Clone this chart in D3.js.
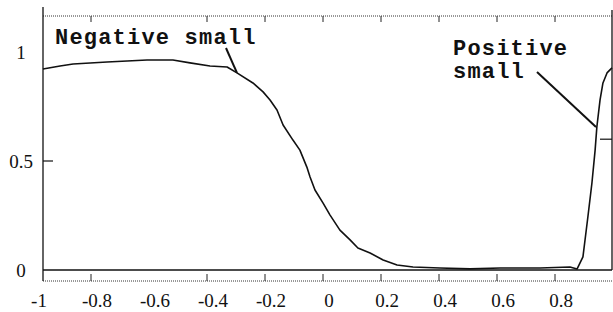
<!DOCTYPE html>
<html>
<head>
<meta charset="utf-8">
<script src="https://cdn.jsdelivr.net/npm/d3@7"></script>
<style>
    body { margin:0; background:#fff; }
    .tickLabel { font-family: "Liberation Serif", "Times New Roman", serif; font-size:19px; fill:#111; }
    .annot { font-family: "Liberation Mono", "Courier New", monospace; font-size:22px; font-weight:bold; letter-spacing:1.2px; fill:#111; }
</style>
</head>
<body>
<div id="chart"></div>
<script>
    /*
    DATA
    */
    const curveX = [-0.976, -0.917, -0.872, -0.755, -0.617, -0.528, -0.469, -0.400, -0.341, -0.307,
        -0.252, -0.217, -0.193, -0.169, -0.148, -0.114, -0.090, -0.066, -0.055, -0.038,
        -0.010, 0.014, 0.048, 0.083, 0.110, 0.152, 0.197, 0.245, 0.300, 0.393,
        0.497, 0.600, 0.738, 0.841, 0.866, 0.886, 0.903, 0.917, 0.928, 0.934,
        0.945, 0.955, 0.969, 0.986];
    const curveY = [0.922, 0.936, 0.945, 0.954, 0.963, 0.963, 0.950, 0.936, 0.931, 0.904,
        0.858, 0.817, 0.780, 0.734, 0.665, 0.596, 0.550, 0.472, 0.427, 0.367,
        0.307, 0.252, 0.183, 0.138, 0.101, 0.078, 0.046, 0.023, 0.014, 0.009,
        0.005, 0.009, 0.009, 0.014, 0.005, 0.060, 0.243, 0.399, 0.550, 0.656,
        0.780, 0.858, 0.904, 0.927];

    const xLabelVals = [-1, -0.8, -0.6, -0.4, -0.2, 0, 0.2, 0.4, 0.6, 0.8];
    const xLabels = ["-1", "-0.8", "-0.6", "-0.4", "-0.2", "0", "0.2", "0.4", "0.6", "0.8"];
    const xTickVals = [-0.8, -0.4, -0.2, 0, 0.2, 0.4, 0.6, 0.8];
    const yLabelVals = [0, 0.5, 1];
    const yLabels = ["0", "0.5", "1"];

    const annotations = [
        {lines: ["Negative small"], px: -0.307, py: 0.904},
        {lines: ["Positive", "small"], px: 0.931, py: 0.656}
    ];

    /*
    CANVAS + SCALES
    */
    const width = 613, height = 312;
    const plot = {left:43, right:612, top:16, bottom:281, zero:270};

    const svg = d3.select("#chart").append("svg")
        .attr("width", width)
        .attr("height", height);

    const xScale = d3.scaleLinear().domain([-1, 1]).range([36, 616]);
    const yScale = d3.scaleLinear().domain([0, 1]).range([plot.zero, 52]);

    /*
    FRAME
    */
    // dotted top and bottom lines
    [plot.top, plot.bottom].forEach(function(y){
        svg.append("line")
            .attr("x1", plot.left).attr("x2", plot.right)
            .attr("y1", y).attr("y2", y)
            .attr("stroke", "#333")
            .attr("stroke-width", 1)
            .attr("stroke-dasharray", "1,1");
    });

    // left axis
    svg.append("line")
        .attr("x1", plot.left).attr("x2", plot.left)
        .attr("y1", 7).attr("y2", plot.bottom)
        .attr("stroke", "#111").attr("stroke-width", 1.3);

    // right border
    svg.append("line")
        .attr("x1", plot.right).attr("x2", plot.right)
        .attr("y1", 10).attr("y2", plot.zero)
        .attr("stroke", "#111").attr("stroke-width", 1.3);

    // zero line
    svg.append("line")
        .attr("x1", plot.left).attr("x2", plot.right)
        .attr("y1", yScale(0)).attr("y2", yScale(0))
        .attr("stroke", "#111").attr("stroke-width", 1.3);

    // x ticks top and bottom
    svg.selectAll(".topTick")
        .data(xTickVals)
        .enter().append("line")
        .attr("x1", d => xScale(d) - 3).attr("x2", d => xScale(d) - 3)
        .attr("y1", plot.top).attr("y2", plot.top + 6)
        .attr("stroke", "#222").attr("stroke-width", 1);

    svg.selectAll(".botTick")
        .data(xTickVals)
        .enter().append("line")
        .attr("x1", d => xScale(d) - 3).attr("x2", d => xScale(d) - 3)
        .attr("y1", plot.bottom).attr("y2", plot.bottom - 7)
        .attr("stroke", "#222").attr("stroke-width", 1);

    // y tick at 0.5 (left) and a small one on the right
    svg.append("line")
        .attr("x1", plot.left).attr("x2", plot.left + 10)
        .attr("y1", yScale(0.5)).attr("y2", yScale(0.5))
        .attr("stroke", "#111").attr("stroke-width", 1.2);

    svg.append("line")
        .attr("x1", plot.right - 12).attr("x2", plot.right)
        .attr("y1", yScale(0.6)).attr("y2", yScale(0.6))
        .attr("stroke", "#111").attr("stroke-width", 1.2);

    /*
    LABELS
    */
    svg.selectAll(".xLabel")
        .data(xLabelVals)
        .enter().append("text")
        .attr("class", "tickLabel")
        .attr("x", d => xScale(d) + 3)
        .attr("y", 307)
        .attr("text-anchor", "middle")
        .text((d, i) => xLabels[i]);

    svg.selectAll(".yLabel")
        .data(yLabelVals)
        .enter().append("text")
        .attr("class", "tickLabel")
        .attr("x", 21)
        .attr("y", d => yScale(d) + 3)
        .attr("dominant-baseline", "middle")
        .attr("text-anchor", "middle")
        .text((d, i) => yLabels[i]);

    /*
    CURVE
    */
    const points = curveX.map((x, i) => [x, curveY[i]]);

    svg.append("path")
        .datum(points)
        .attr("fill", "none")
        .attr("stroke", "#111")
        .attr("stroke-width", 1.6)
        .attr("stroke-linejoin", "round")
        .attr("d", d3.line().x(d => xScale(d[0])).y(d => yScale(d[1])));

    /*
    ANNOTATIONS
    */
    const annotLayout = [
        {tx: 55, ty: 44, lx: 226, ly: 48},
        {tx: 453, ty: 55, lx: 537, ly: 72}
    ];

    annotations.forEach(function(a, i){
        const lay = annotLayout[i];
        const t = svg.append("text")
            .attr("class", "annot")
            .attr("x", lay.tx)
            .attr("y", lay.ty);
        a.lines.forEach(function(s, j){
            t.append("tspan")
                .attr("x", lay.tx)
                .attr("dy", j == 0 ? 0 : 23)
                .text(s);
        });

        svg.append("line")
            .attr("x1", lay.lx).attr("y1", lay.ly)
            .attr("x2", xScale(a.px)).attr("y2", yScale(a.py))
            .attr("stroke", "#111")
            .attr("stroke-width", 2);
    });
</script>
</body>
</html>
